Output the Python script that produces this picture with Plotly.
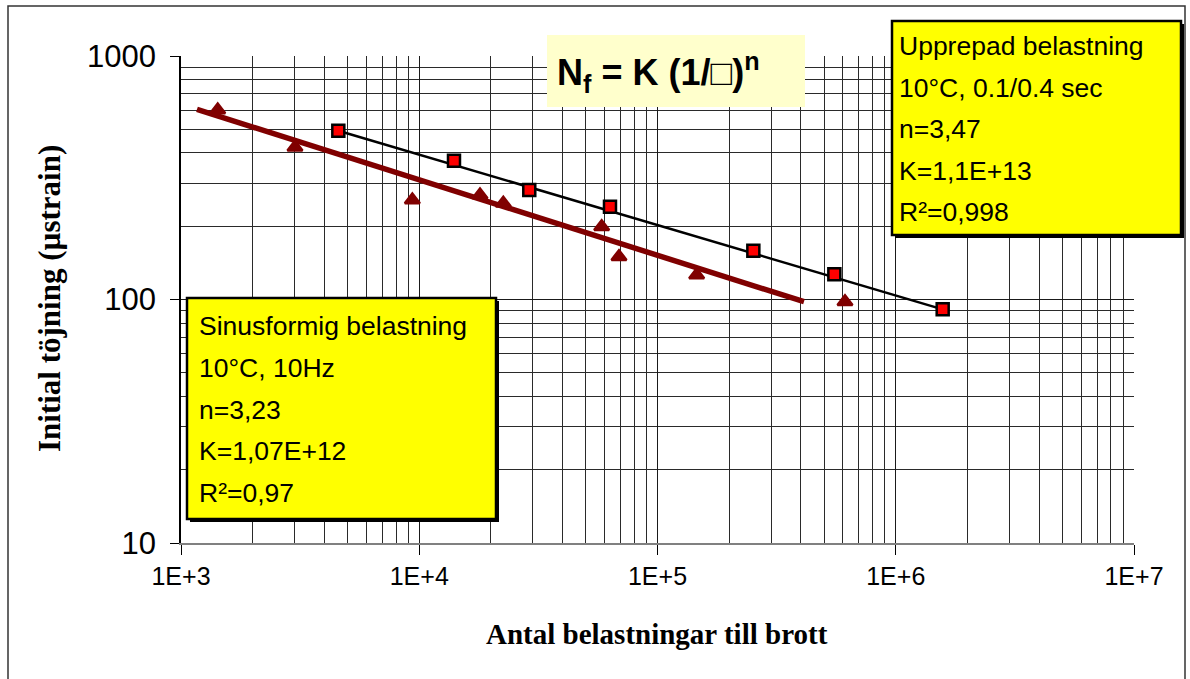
import plotly.graph_objects as go

# ---------------- data ----------------
sinus_N = [1426, 3009, 9354, 17990, 22530, 58300, 68920, 146000, 612300]
sinus_eps = [600, 421.7, 256.2, 268.7, 248.3, 199, 149.9, 126.1, 97.9]
sinus_trend_N = [1167, 412000]
sinus_trend_eps = [604, 97.9]

upp_N = [4574, 13990, 28960, 63180, 252500, 552400, 1574000]
upp_eps = [493.5, 371.5, 281.7, 240.5, 158.6, 126.9, 91.1]
upp_trend_N = [4574, 1574000]
upp_trend_eps = [493.5, 91.1]

x_tickvals = [1e3, 1e4, 1e5, 1e6, 1e7]
x_ticktext = ["1E+3", "1E+4", "1E+5", "1E+6", "1E+7"]
y_tickvals = [10, 100, 1000]
y_ticktext = ["10", "100", "1000"]
minor_mult = [2, 3, 4, 5, 6, 7, 8, 9]

sinus_text = ["Sinusformig belastning", "10°C, 10Hz", "n=3,23", "K=1,07E+12", "R²=0,97"]
upp_text = ["Upprepad belastning", "10°C, 0.1/0.4 sec", "n=3,47", "K=1,1E+13", "R²=0,998"]

# ---------------- layout helpers ----------------
W, H = 1190, 679
PL, PR, PT, PB = 181, 1134, 56, 543


def px(x):
    return (x - PL) / (PR - PL)


def py(y):
    return (PB - y) / (PB - PT)


x_minor = [m * 10 ** d for d in range(3, 7) for m in minor_mult]
y_minor = [m * 10 ** d for d in range(1, 3) for m in minor_mult]

SANS = "Liberation Sans, Arial, sans-serif"
SERIF = "Liberation Serif, Times New Roman, serif"

fig = go.Figure()

fig.add_trace(go.Scatter(x=sinus_trend_N, y=sinus_trend_eps, mode="lines",
                         line=dict(color="#800000", width=5.5), showlegend=False,
                         hoverinfo="skip"))
fig.add_trace(go.Scatter(x=upp_trend_N, y=upp_trend_eps, mode="lines",
                         line=dict(color="black", width=2.5), showlegend=False,
                         hoverinfo="skip"))
fig.add_trace(go.Scatter(x=sinus_N, y=sinus_eps, mode="markers",
                         marker=dict(symbol="triangle-up", size=13, color="#800000",
                                     line=dict(color="#800000", width=2.5)),
                         showlegend=False))
fig.add_trace(go.Scatter(x=upp_N, y=upp_eps, mode="markers",
                         marker=dict(symbol="square", size=12, color="#FF0000",
                                     line=dict(color="black", width=2.5)),
                         showlegend=False))

shapes = []
# outer frame
shapes.append(dict(type="rect", xref="paper", yref="paper",
                   x0=px(8), x1=px(1185), y0=py(6), y1=py(700),
                   line=dict(color="#333333", width=1.5), fillcolor="rgba(0,0,0,0)",
                   layer="above"))
# formula box
shapes.append(dict(type="rect", xref="paper", yref="paper",
                   x0=px(547), x1=px(805), y0=py(35), y1=py(107),
                   line=dict(width=0), fillcolor="#FFFFCC", layer="above"))


def box(x0, y0, x1, y1):
    shapes.append(dict(type="rect", xref="paper", yref="paper",
                       x0=px(x0 + 3), x1=px(x1 + 3), y0=py(y0 + 3), y1=py(y1 + 3),
                       line=dict(width=0), fillcolor="black", layer="above"))
    shapes.append(dict(type="rect", xref="paper", yref="paper",
                       x0=px(x0), x1=px(x1), y0=py(y0), y1=py(y1),
                       line=dict(color="black", width=2.5), fillcolor="#FFFF00",
                       layer="above"))


box(187, 298, 496, 519)
box(892, 21, 1181, 235)

annotations = []
for i, t in enumerate(sinus_text):
    annotations.append(dict(xref="paper", yref="paper", x=px(197), y=py(326 + 41.8 * i),
                            xanchor="left", yanchor="middle", text=t, showarrow=False,
                            font=dict(family=SANS, size=26.5, color="black")))
for i, t in enumerate(upp_text):
    annotations.append(dict(xref="paper", yref="paper", x=px(897), y=py(46 + 41.5 * i),
                            xanchor="left", yanchor="middle", text=t, showarrow=False,
                            font=dict(family=SANS, size=26.5, color="black")))
annotations.append(dict(xref="paper", yref="paper", x=px(555), y=py(72),
                        xanchor="left", yanchor="middle",
                        text="<b>N<sub>f</sub> = K (1/□)<sup>n</sup></b>", showarrow=False,
                        font=dict(family=SANS, size=36, color="black")))
annotations.append(dict(xref="paper", yref="paper", x=px(49), y=py(299),
                        xanchor="center", yanchor="middle", textangle=-90,
                        text="<b>Initial töjning (µstrain)</b>", showarrow=False,
                        font=dict(family=SERIF, size=31, color="black")))
annotations.append(dict(xref="paper", yref="paper", x=px(657), y=py(634),
                        xanchor="center", yanchor="middle",
                        text="<b>Antal belastningar till brott</b>", showarrow=False,
                        font=dict(family=SERIF, size=29, color="black")))

fig.update_layout(
    width=W, height=H, autosize=False,
    margin=dict(l=PL, r=W - PR, t=PT, b=H - PB, pad=0),
    paper_bgcolor="white", plot_bgcolor="white",
    showlegend=False,
    shapes=shapes, annotations=annotations,
    xaxis=dict(type="log", range=[3, 7], tickvals=x_tickvals, ticktext=x_ticktext,
               showgrid=True, gridcolor="#1a1a1a", gridwidth=1,
               minor=dict(tickvals=x_minor, showgrid=True, gridcolor="#2a2a2a",
                          gridwidth=1, ticks=""),
               showline=True, linecolor="#808080", linewidth=2,
               ticks="outside", ticklen=10, tickcolor="black", tickwidth=1,
               tickfont=dict(family=SANS, size=25, color="black"),
               zeroline=False, fixedrange=True),
    yaxis=dict(type="log", range=[1, 3], tickvals=y_tickvals, ticktext=y_ticktext,
               showgrid=True, gridcolor="#1a1a1a", gridwidth=1,
               minor=dict(tickvals=y_minor, showgrid=True, gridcolor="#2a2a2a",
                          gridwidth=1, ticks=""),
               showline=True, linecolor="black", linewidth=1.5,
               ticks="outside", ticklen=9, tickcolor="black", tickwidth=1,
               tickfont=dict(family=SANS, size=31, color="black"),
               ticklabelstandoff=8,
               zeroline=False, fixedrange=True),
)

fig.write_html("out.html")
